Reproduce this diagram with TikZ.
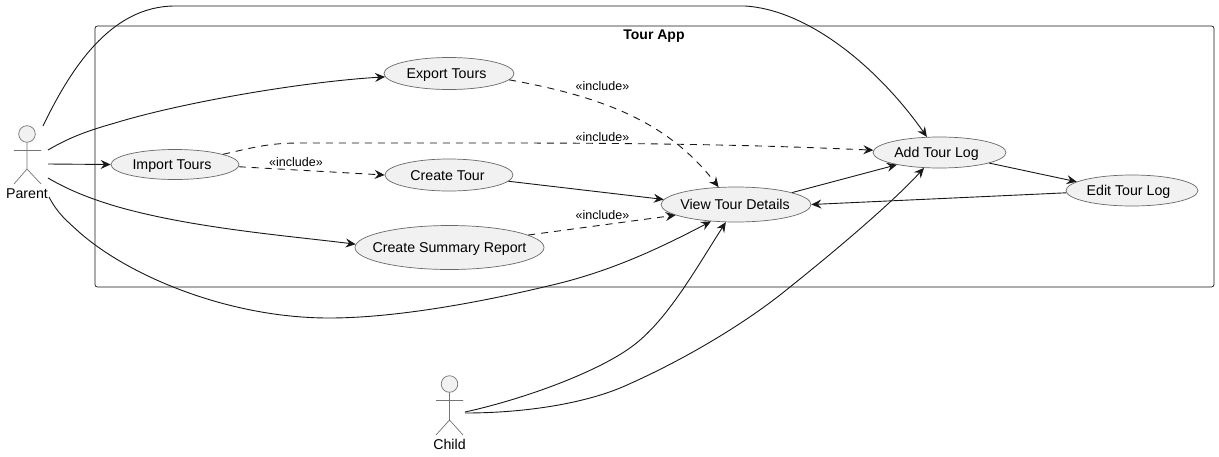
\documentclass[tikz,border=0pt]{standalone}
\usepackage{fontspec}
\setmainfont{Liberation Sans}
\usetikzlibrary{arrows.meta,shapes.geometric}
\definecolor{ufill}{HTML}{F1F1F1}
\definecolor{uline}{HTML}{181818}
\newcommand{\uct}[2]{\makebox[0pt]{\kern#1pt #2}}
\tikzset{
  usecase/.style={ellipse,draw=uline!65,line width=0.7pt,fill=ufill,inner sep=0pt,text height=10pt,text depth=0pt,font=\fontsize{14.2}{16}\selectfont},
  conn/.style={draw=uline,line width=0.9pt,-{Stealth[length=10pt,width=9pt,inset=3.5pt]}},
  dconn/.style={conn,dash pattern=on 7pt off 6pt},
  lbl/.style={inner sep=0pt,font=\fontsize{12.5}{14}\selectfont},
  actorlbl/.style={inner sep=0pt,font=\fontsize{14.2}{16}\selectfont},
  actorline/.style={draw=uline!60,line width=0.7pt},
  actorhead/.style={actorline,fill=ufill},
}
\begin{document}
\begin{tikzpicture}[x=1pt,y=-1pt]
\useasboundingbox (0,0) rectangle (1219,456);
\fill[white] (0,0) rectangle (1219,456);
\node[draw=uline,line width=0.7pt,rounded corners=2.5pt,minimum width=1119pt,minimum height=261pt,inner sep=0pt] (app) at (654.5,156.5) {};
\node[inner sep=0pt,font=\bfseries\fontsize{14}{16}\selectfont] (apptitle) at (654,36) {Tour App};
% use cases
\node[usecase,minimum width=130pt,minimum height=32pt] (export) at (449,73.5) {\uct{-5}{Export Tours}};
\node[usecase,minimum width=128pt,minimum height=30pt] (import) at (175,164.5) {\uct{-6}{Import Tours}};
\node[usecase,minimum width=128pt,minimum height=32pt] (create) at (449,175) {\uct{-3}{Create Tour}};
\node[usecase,minimum width=189pt,minimum height=44pt] (summary) at (449.5,247.5) {\uct{0}{Create Summary Report}};
\node[usecase,minimum width=150pt,minimum height=35pt] (view) at (736,204.5) {\uct{-2}{View Tour Details}};
\node[usecase,minimum width=133pt,minimum height=31pt] (add) at (939.5,152.5) {\uct{-6}{Add Tour Log}};
\node[usecase,minimum width=132pt,minimum height=31pt] (edit) at (1132,190.5) {\uct{-7}{Edit Tour Log}};
% actors
\draw[actorhead] (27,134) circle (8.3pt);
\draw[actorline] (27,142.5) -- (27,169) (14,150.5) -- (41,150.5) (14,184) -- (27,169) -- (41,184);
\node[actorlbl] (parent) at (27,193.5) {Parent};
\draw[actorhead] (449.5,384) circle (8.3pt);
\draw[actorline] (449.5,392.5) -- (449.5,420) (436,400.5) -- (463,400.5) (436,435) -- (449.5,420) -- (463,435);
\node[actorlbl] (child) at (449.5,444) {Child};
\coordinate (pa) at (43,126);
\coordinate (pb) at (48,150);
\coordinate (pc) at (48,164);
\coordinate (pd) at (48,178);
\coordinate (pe) at (49,197);
\coordinate (ca) at (465,412);
\coordinate (cb) at (465,413);
% connectors
\draw[conn] (pa) .. controls (70,70) and (110,6) .. (175,6) -- (745,6) .. controls (810,10) and (880,70) .. (add.129);
\draw[conn] (pb) .. controls (70,137) and (90,130) .. (115,123) .. controls (180,103) and (300,82) .. (export.183);
\draw[conn] (pc) -- (import.180);
\draw[conn] (pd) .. controls (65,188) and (85,197) .. (115,206) .. controls (190,228) and (290,236) .. (summary.178);
\draw[conn] (pe) .. controls (58,214) and (66,220) .. (79,232) .. controls (130,277) and (230,318) .. (329,318) .. controls (400,318) and (490,300) .. (548,286) .. controls (610,272) and (660,248) .. (view.214);
\draw[dconn] (export.-6) .. controls (610,98) and (670,125) .. (view.135);
\draw[dconn] (import.12) .. controls (255,147) and (270,143) .. (300,143) -- (500,143) .. controls (680,143) and (780,146) .. (add.178);
\draw[dconn] (import.-2) -- (create.180);
\draw[conn] (create.-6) -- (view.176);
\draw[dconn] (summary.9) -- (view.190);
\draw[conn] (view.12) -- (add.196);
\draw[conn] (add.-12) -- (edit.171);
\draw[conn] (edit.182) -- (view.0);
\draw[conn] (ca) .. controls (520,400) and (590,375) .. (627,350) .. controls (665,325) and (695,270) .. (view.240);
\draw[conn] (cb) .. controls (530,413) and (590,402) .. (627,385) .. controls (690,357) and (750,320) .. (790,287) .. controls (830,255) and (890,205) .. (add.225);
% labels
\node[lbl] (l1) at (602.5,86) {«include»};
\node[lbl] (l2) at (602.5,137) {«include»};
\node[lbl] (l3) at (296,162) {«include»};
\node[lbl] (l4) at (602.5,215) {«include»};
\end{tikzpicture}
\end{document}
